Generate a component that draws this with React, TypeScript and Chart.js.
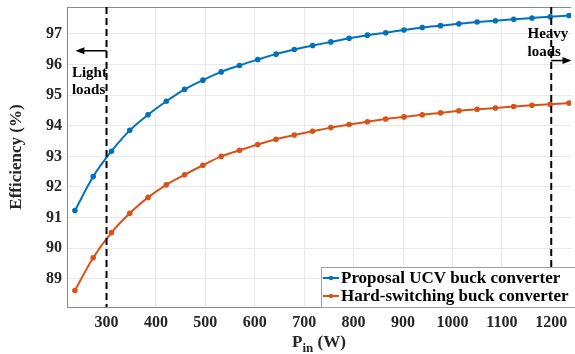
import { useEffect, useRef } from "react";
import { Chart, registerables } from "chart.js";

Chart.register(...registerables);

const powerIn = [236, 273, 310, 347, 384, 421, 458, 495, 532, 569, 606, 643, 680, 717, 754, 791, 828, 865, 902, 939, 976, 1013, 1050, 1087, 1124, 1161, 1198, 1236];
const ucvEff = [91.23, 92.34, 93.17, 93.85, 94.36, 94.8, 95.19, 95.49, 95.76, 95.97, 96.16, 96.34, 96.49, 96.62, 96.74, 96.86, 96.96, 97.04, 97.13, 97.21, 97.27, 97.33, 97.39, 97.43, 97.48, 97.52, 97.56, 97.6];
const hardEff = [88.62, 89.69, 90.51, 91.14, 91.66, 92.07, 92.4, 92.71, 93.0, 93.2, 93.39, 93.56, 93.7, 93.82, 93.94, 94.04, 94.13, 94.22, 94.29, 94.36, 94.42, 94.49, 94.54, 94.58, 94.63, 94.67, 94.7, 94.74];
const seriesLabels = ["Proposal UCV buck converter", "Hard-switching buck converter"];
const xTicks = [300, 400, 500, 600, 700, 800, 900, 1000, 1100, 1200];
const yTicks = [89, 90, 91, 92, 93, 94, 95, 96, 97];
const lightLabel = ["Light", "loads"];
const heavyLabel = ["Heavy", "loads"];
const lightBoundary = 300;
const heavyBoundary = 1200;

const BLUE = "#0072BD";
const ORANGE = "#D95319";
const FONT = "'Liberation Serif', 'Times New Roman', serif";
const TEXT = "#262626";

const overlayPlugin = {
  id: "overlay",
  afterDraw(chart: any) {
    const { ctx, chartArea: a, scales } = chart;
    const xs = scales.x;
    const ys = scales.y;
    ctx.save();
    // top border of the box
    ctx.strokeStyle = "#8a8a8a";
    ctx.lineWidth = 1;
    ctx.beginPath();
    ctx.moveTo(a.left, a.top + 0.5);
    ctx.lineTo(a.right, a.top + 0.5);
    ctx.stroke();

    // dashed boundaries
    ctx.save();
    ctx.beginPath();
    ctx.rect(a.left, a.top, a.right - a.left, a.bottom - a.top);
    ctx.clip();
    ctx.strokeStyle = "#000";
    ctx.lineWidth = 2;
    ctx.setLineDash([7, 4]);
    [lightBoundary, heavyBoundary].forEach((v) => {
      const px = xs.getPixelForValue(v);
      ctx.beginPath();
      ctx.moveTo(px, a.top);
      ctx.lineTo(px, a.bottom);
      ctx.stroke();
    });
    ctx.restore();

    // arrows
    const arrow = (x1: number, x2: number, y: number) => {
      const dir = Math.sign(x2 - x1);
      ctx.strokeStyle = "#000";
      ctx.fillStyle = "#000";
      ctx.lineWidth = 1.5;
      ctx.setLineDash([]);
      ctx.beginPath();
      ctx.moveTo(x1, y);
      ctx.lineTo(x2 - dir * 4, y);
      ctx.stroke();
      ctx.beginPath();
      ctx.moveTo(x2, y);
      ctx.lineTo(x2 - dir * 9, y - 3.5);
      ctx.lineTo(x2 - dir * 9, y + 3.5);
      ctx.closePath();
      ctx.fill();
    };
    arrow(xs.getPixelForValue(lightBoundary), xs.getPixelForValue(237), ys.getPixelForValue(96.45));
    arrow(xs.getPixelForValue(heavyBoundary), xs.getPixelForValue(1241), ys.getPixelForValue(96.13));

    // annotation text
    ctx.font = `bold 15px ${FONT}`;
    ctx.fillStyle = "#000";
    ctx.textBaseline = "middle";
    ctx.textAlign = "left";
    ctx.fillText(lightLabel[0], xs.getPixelForValue(230), ys.getPixelForValue(95.72));
    ctx.fillText(lightLabel[1], xs.getPixelForValue(230), ys.getPixelForValue(95.17));
    ctx.fillText(heavyLabel[0], xs.getPixelForValue(1152), ys.getPixelForValue(97.0));
    ctx.fillText(heavyLabel[1], xs.getPixelForValue(1152), ys.getPixelForValue(96.42));

    // legend
    const lx = a.left + 254;
    const ly = a.top + 260;
    const lw = 270;
    const lh = a.bottom - ly;
    ctx.fillStyle = "#fff";
    ctx.fillRect(lx, ly, lw, lh);
    ctx.strokeStyle = "#a0a0a0";
    ctx.lineWidth = 1;
    ctx.strokeRect(lx + 0.5, ly + 0.5, lw, lh);
    const rowColors = [BLUE, ORANGE];
    ctx.font = `bold 17px ${FONT}`;
    seriesLabels.forEach((lab, i) => {
      const cy = ly + 11 + i * 18;
      ctx.strokeStyle = rowColors[i];
      ctx.fillStyle = rowColors[i];
      ctx.lineWidth = 2;
      ctx.beginPath();
      ctx.moveTo(lx + 2, cy);
      ctx.lineTo(lx + 18, cy);
      ctx.stroke();
      ctx.beginPath();
      ctx.arc(lx + 10, cy, 2.2, 0, Math.PI * 2);
      ctx.fill();
      ctx.fillStyle = "#000";
      ctx.textAlign = "left";
      ctx.textBaseline = "middle";
      ctx.fillText(lab, lx + 20, cy + 1);
    });

    // x title P_in (W)
    const big = `bold 17px ${FONT}`;
    const small = `bold 13px ${FONT}`;
    ctx.fillStyle = TEXT;
    ctx.textBaseline = "alphabetic";
    ctx.font = big;
    const wP = ctx.measureText("P").width;
    const wW = ctx.measureText(" (W)").width;
    ctx.font = small;
    const wIn = ctx.measureText("in").width;
    const total = wP + wIn + wW;
    let tx = (a.left + a.right) / 2 - total / 2;
    const base = 347;
    ctx.font = big;
    ctx.fillText("P", tx, base);
    tx += wP;
    ctx.font = small;
    ctx.fillText("in", tx, base + 5);
    tx += wIn;
    ctx.font = big;
    ctx.fillText(" (W)", tx, base);
    ctx.restore();
  },
};

export default function App() {
  const ref = useRef<HTMLCanvasElement | null>(null);
  useEffect(() => {
    document.body.style.margin = "0";
    const canvas = ref.current!;
    const chart = new Chart(canvas, {
      type: "line",
      data: {
        datasets: [
          {
            label: seriesLabels[0],
            data: powerIn.map((x, i) => ({ x, y: ucvEff[i] })),
            borderColor: BLUE,
            backgroundColor: BLUE,
            borderWidth: 2,
            pointRadius: 2.8,
            pointBorderWidth: 0,
            cubicInterpolationMode: "monotone",
          },
          {
            label: seriesLabels[1],
            data: powerIn.map((x, i) => ({ x, y: hardEff[i] })),
            borderColor: ORANGE,
            backgroundColor: ORANGE,
            borderWidth: 2,
            pointRadius: 2.8,
            pointBorderWidth: 0,
            cubicInterpolationMode: "monotone",
          },
        ],
      },
      options: {
        responsive: false,
        animation: false,
        devicePixelRatio: 1,
        layout: { padding: { top: 7, right: 0, left: 0, bottom: 0 } },
        plugins: { legend: { display: false }, tooltip: { enabled: false } },
        scales: {
          x: {
            type: "linear",
            min: 220,
            max: 1240,
            afterBuildTicks: (s: any) => {
              s.ticks = xTicks.map((v) => ({ value: v }));
            },
            afterFit: (s: any) => {
              s.height = 47;
              s.paddingLeft = 0;
              s.paddingRight = 0;
            },
            grid: { color: "#e8e8e8", drawTicks: false, lineWidth: 1 },
            border: { color: "#8a8a8a" },
            ticks: {
              color: TEXT,
              padding: 6,
              maxRotation: 0,
              callback: (v: any) => String(v),
              font: { family: FONT, size: 16, weight: "bold" },
            },
          },
          y: {
            type: "linear",
            min: 88.08,
            max: 97.88,
            afterBuildTicks: (s: any) => {
              s.ticks = yTicks.map((v) => ({ value: v }));
            },
            afterFit: (s: any) => {
              s.width = 67;
              s.paddingTop = 0;
              s.paddingBottom = 0;
            },
            grid: { color: "#e8e8e8", drawTicks: false, lineWidth: 1 },
            border: { color: "#8a8a8a" },
            ticks: {
              color: TEXT,
              padding: 5,
              callback: (v: any) => String(v),
              font: { family: FONT, size: 16, weight: "bold" },
            },
            title: {
              display: true,
              text: "Efficiency (%)",
              color: TEXT,
              padding: { top: 6, bottom: 0 },
              font: { family: FONT, size: 17, weight: "bold" },
            },
          },
        },
      },
      plugins: [overlayPlugin],
    } as any);
    return () => chart.destroy();
  }, []);
  return <canvas ref={ref} width={575} height={354} style={{ display: "block" }} />;
}
